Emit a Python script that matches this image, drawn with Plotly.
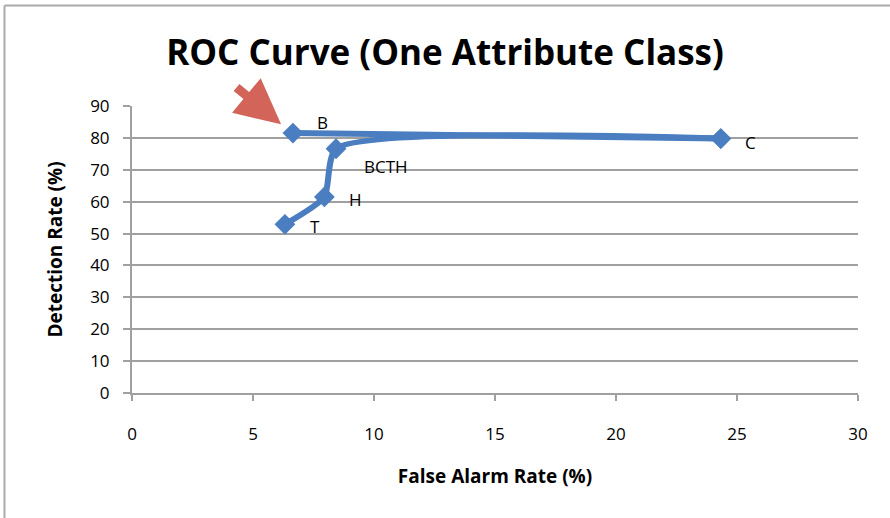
import plotly.graph_objects as go

# Data (in line drawing order)
labels = ["T", "H", "BCTH", "C", "B"]
far = [6.32, 7.95, 8.43, 24.33, 6.65]        # False Alarm Rate (%)
dr = [52.9, 61.5, 76.6, 79.8, 81.5]          # Detection Rate (%)
label_shift_x = [30, 31, 50, 30, 30]
label_shift_y = [-2, -3, -18, -4, 11]

x_ticks = [0, 5, 10, 15, 20, 25, 30]
y_ticks = [0, 10, 20, 30, 40, 50, 60, 70, 80, 90]

FONT = "Open Sans"
BLUE = "rgb(74,126,193)"
GRID = "rgb(160,160,160)"

fig = go.Figure()
# smoothed part T -> H -> BCTH -> C
fig.add_trace(go.Scatter(
    x=far[:4], y=dr[:4], mode="lines+markers",
    line=dict(color=BLUE, width=6, shape="spline", smoothing=0.6),
    marker=dict(symbol="diamond", size=16, color=BLUE),
    showlegend=False, hoverinfo="skip",
))
# C -> B
fig.add_trace(go.Scatter(
    x=far[3:], y=dr[3:], mode="lines+markers",
    line=dict(color=BLUE, width=6),
    marker=dict(symbol="diamond", size=16, color=BLUE),
    showlegend=False, hoverinfo="skip",
))

annotations = []
for lab, x, y, dx, dy in zip(labels, far, dr, label_shift_x, label_shift_y):
    annotations.append(dict(
        x=x, y=y, xref="x", yref="y", text=lab, showarrow=False,
        xshift=dx, yshift=dy, font=dict(family=FONT, size=17, color="black"),
    ))

# Red arrow pointing at B
annotations.append(dict(
    x=6.16, y=84.3, xref="x", yref="y", text="", showarrow=True,
    ax=-46, ay=-38, axref="pixel", ayref="pixel",
    arrowhead=2, arrowsize=1.0, arrowwidth=9, arrowcolor="rgb(210,100,90)",
    standoff=0,
))

fig.update_layout(
    width=890, height=518,
    margin=dict(l=132, r=32, t=106, b=125),
    paper_bgcolor="white", plot_bgcolor="white",
    title=dict(text="<b>ROC Curve (One Attribute Class)</b>", x=0.5, xref="container",
               xanchor="center", y=1 - 53 / 518, yanchor="middle", yref="container",
               font=dict(family=FONT, size=35, color="black")),
    annotations=annotations,
    shapes=[
        dict(type="line", xref="paper", yref="paper",
             x0=(4.5 - 132) / 726, x1=(890 - 132) / 726,
             y0=(393 - 5.5) / 287, y1=(393 - 5.5) / 287,
             line=dict(color="rgb(170,170,170)", width=2)),
        dict(type="line", xref="paper", yref="paper",
             x0=(4.5 - 132) / 726, x1=(4.5 - 132) / 726,
             y0=(393 - 5.5) / 287, y1=(393 - 520) / 287,
             line=dict(color="rgb(170,170,170)", width=2)),
    ],
)

fig.update_xaxes(
    range=[0, 30], tickvals=x_ticks, ticktext=[str(v) for v in x_ticks],
    showgrid=False, zeroline=False,
    showline=True, linecolor=GRID, linewidth=2,
    ticks="outside", ticklen=6, tickwidth=2, tickcolor=GRID,
    ticklabelstandoff=19,
    tickfont=dict(family=FONT, size=17, color="black"),
    title=dict(text="<b>False Alarm Rate (%)</b>", standoff=25,
               font=dict(family=FONT, size=19, color="black")),
)
fig.update_yaxes(
    range=[0, 90], tickvals=y_ticks, ticktext=[str(v) for v in y_ticks],
    showgrid=True, gridcolor=GRID, gridwidth=2, zeroline=False,
    showline=True, linecolor=GRID, linewidth=2,
    ticks="outside", ticklen=7, tickwidth=2, tickcolor=GRID,
    ticklabelstandoff=10,
    tickfont=dict(family=FONT, size=17, color="black"),
    title=dict(text="<b>Detection Rate (%)</b>", standoff=22,
               font=dict(family=FONT, size=19, color="black")),
)

fig.write_html("out.html", config={"displayModeBar": False},
               post_script="document.body.style.margin='0';")
